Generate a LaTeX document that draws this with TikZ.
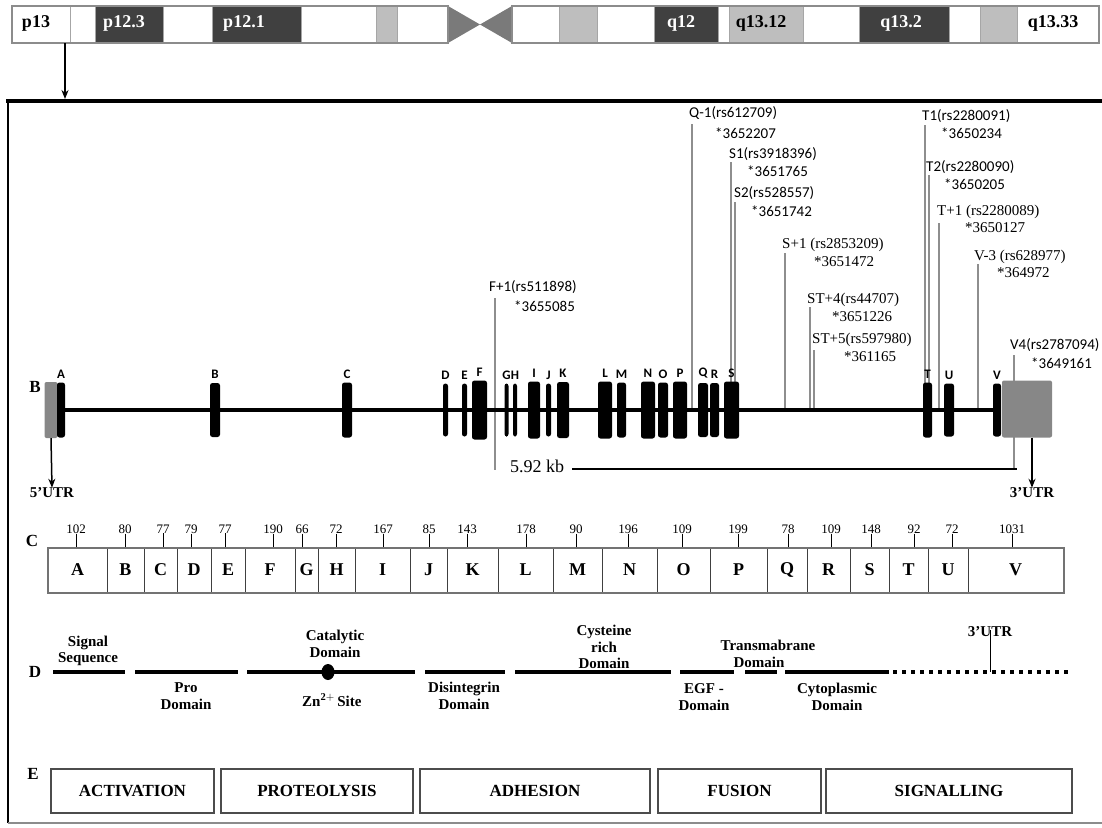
\documentclass[tikz,border=0pt]{standalone}
\usepackage{fontspec}
\setmainfont{Liberation Serif}
\newfontfamily\calib{Carlito}
\usepackage{tikz}
\usetikzlibrary{arrows.meta,positioning}
\definecolor{bandDark}{HTML}{404040}
\definecolor{bandLight}{HTML}{BEBEBE}
\definecolor{cenGray}{HTML}{7A7A7A}
\definecolor{utrGray}{HTML}{878787}
\definecolor{snpGray}{HTML}{8E8E8E}
\newcommand{\fsz}[1]{\fontsize{#1}{#1}\selectfont}
\tikzset{
  bandlab/.style={font=\bfseries\fsz{18}, inner sep=0pt},
  seclab/.style={font=\bfseries\fsz{17}, inner sep=0pt},
  exon/.style={fill=black, rounded corners=2.5pt, inner sep=0pt},
  exlab/.style={font=\calib\bfseries\fsz{13}, inner sep=0pt, anchor=south, yshift=4pt},
  utrbox/.style={fill=utrGray, rounded corners=2pt, inner sep=0pt},
  utrlab/.style={font=\bfseries\fsz{15}, inner sep=0pt},
  gene/.style={line width=4pt},
  snp/.style={snpGray, line width=2pt},
  snps/.style={font=\calib\fsz{15}, inner sep=0pt, anchor=west},
  snpr/.style={font=\fsz{15}, inner sep=0pt, anchor=west},
  arr/.style={-{Stealth[length=9pt,width=7pt]}, line width=1.5pt},
  cell/.style={draw=black!75, line width=1pt, minimum height=44pt, inner sep=0pt, font=\bfseries\fsz{18}},
  exnum/.style={font=\fsz{13}, inner sep=0pt},
  dom/.style={line width=4pt},
  domlab/.style={font=\bfseries\fontsize{15}{16.5}\selectfont, align=center, inner sep=0pt},
  role/.style={draw=black!70, line width=1.5pt, minimum height=44pt, inner sep=0pt, font=\bfseries\fsz{17}}
}

\begin{document}
\begin{tikzpicture}[x=1pt,y=-1pt]
\useasboundingbox (0,0) rectangle (1102,827);
% chromosome 12 ideogram
\foreach \a/\b/\c in {12/70/white,70/95/white,95/163/bandDark,163/212/white,212/301/bandDark,
  301/376/white,376/397/bandLight,397/448/white,512/559/white,559/597/bandLight,597/654/white,
  654/718/bandDark,718/729/white,729/803/bandLight,803/859/white,859/949/bandDark,949/980/white,
  980/1017/bandLight,1017/1099/white}
  \filldraw[fill=\c, draw=black!35, line width=0.6pt] (\a,6) rectangle (\b,43);
\fill[cenGray] (448,6) -- (480,24.5) -- (448,43) -- cycle;
\fill[cenGray] (512,6) -- (480,24.5) -- (512,43) -- cycle;
\draw[black!45, line width=1.5pt] (12,6) rectangle (448,43) (512,6) rectangle (1099,43);
\node[bandlab] (p13) at (36,23) {p13};
\node[bandlab, white] (p123) at (124,23) {p12.3};
\node[bandlab, white] (p121) at (244,23) {p12.1};
\node[bandlab, white] (q12) at (681,23) {q12};
\node[bandlab] (q1312) at (761,23) {q13.12};
\node[bandlab, white] (q132) at (901,23) {q13.2};
\node[bandlab] (q1333) at (1053,23) {q13.33};
\coordinate (zoomtop) at (65,43);
\coordinate (zoombot) at (65,99);
\draw[arr] (zoomtop) -- (zoombot);

% frame
\draw[line width=4pt] (6,101) -- (1102,101);
\draw[line width=1.5pt] (8,101) -- (8,823);
\draw[black!45, line width=1.5pt] (8,823) -- (1102,823);

% B: gene structure
\node[seclab] (labB) at (35,387) {B};
\foreach \n/\x/\yt/\yb/\lx/\ly/\nx/\ny/\st/\txt/\num in {
  f1/495/298/470/489/287/514/306/snps/F+1(rs511898)/*3655085,
  q1/692/124/410/689/113/715/133/snps/Q-1(rs612709)/*3652207,
  s1/731/162/410/729/154/747/171/snps/S1(rs3918396)/*3651765,
  s2/735/202/410/734/193/751/211/snps/S2(rs528557)/*3651742,
  sp1/785/253/410/782/245/814/262/snpr/S+1 (rs2853209)/*3651472,
  st4/810/307/410/807/300/832/317/snpr/ST+4(rs44707)/*3651226,
  st5/814/350/410/812/340/844/357/snpr/ST+5(rs597980)/*361165,
  t1/925/125/410/922/116/941/133/snps/T1(rs2280091)/*3650234,
  t2/929/175/410/926/167/944/184/snps/T2(rs2280090)/*3650205,
  tp1/939/223/410/937/212/965/228/snpr/T+1 (rs2280089)/*3650127,
  v3/978/264/410/974/257/997/273/snpr/V-3 (rs628977)/*364972,
  v4/1014/355/470/1010/345/1031/363/snps/V4(rs2787094)/*3649161}
{
  \coordinate (\n-t) at (\x,\yt);
  \coordinate (\n-b) at (\x,\yb);
  \draw[snp] (\n-t) -- (\n-b);
  \node[\st] (\n-lab) at (\lx,\ly) {\txt};
  \node[\st] (\n-num) at (\nx,\ny) {\num};
}
\coordinate (g0) at (58,410);
\coordinate (g1) at (1000,410);
\draw[gene] (g0) -- (g1);
\node[utrbox, minimum width=13pt, minimum height=56pt] (utr5) at (51,410) {};
\node[utrbox, minimum width=50pt, minimum height=57pt] (utr3) at (1027,409) {};
\foreach \nm/\x/\w/\h in {A/61/8/55, B/215/10/54, C/347/10/55, D/445.5/5/53, E/464.5/5/53,
  F/479.5/15/59, G/506.5/4/53, H/515/4/53, I/534/12/57, J/548.5/5/53, K/563/12/56,
  L/605/14/57, M/621.5/9/55, N/648/14/57, O/663/10/55, P/680/14/57, Q/703/10/54,
  R/714.5/9/54, S/731.5/15/57, T/927.5/9/55, U/949/10/53, V/997/8/53}
{
  \node[exon, minimum width=\w, minimum height=\h] (ex\nm) at (\x,410) {};
  \node[exlab] (lb\nm) at (ex\nm.north) {\nm};
}
\node[utrlab] (utrlab5) at (52,493) {5'UTR};
\node[utrlab] (utrlab3) at (1032,493) {3'UTR};
\draw[arr] (utr5.south) -- (utrlab5.north);
\draw[arr] (utr3.south -| utrlab3) -- (utrlab3.north);
\node[font=\fsz{18}, inner sep=0pt, anchor=west] (kb) at (510,466) {5.92 kb};
\coordinate (kbend) at (1017,469);
\draw[line width=2pt] ([xshift=8pt]kb.east |- kbend) -- (kbend);

% C: exon sizes
\node[seclab] (labC) at (32,541) {C};
\foreach \l/\a/\b/\tx/\sz in {A/48/107/76/102, B/107/144/125/80, C/144/177/163/77, D/177/211/191/79,
  E/211/245/225/77, F/245/295/273/190, G/295/318/302/66, H/318/355/336/72, I/355/410/383/167,
  J/410/447/429/85, K/447/498/467/143, L/498/553/526/178, M/553/602/576/90, N/602/657/628/196,
  O/657/710/682/109, P/710/767/738/199, Q/767/807/788/78, R/807/850/831/109, S/850/889/871/148,
  T/889/928/914/92, U/928/968/952/72, V/968/1063/1012/1031}
{
  \pgfmathsetmacro{\m}{(\a+\b)/2}
  \pgfmathsetmacro{\w}{\b-\a}
  \node[cell, minimum width=\w] (c\l) at (\m,570) {\l};
  \node[exnum] (n\l) at (\tx,529) {\sz};
  \draw[line width=0.8pt] (n\l.south) -- (n\l.south |- c\l.north);
}
\draw[black!55, line width=2pt] (cA.north west) rectangle (cV.south east);

% D: protein domains
\node[seclab] (labD) at (35,672) {D};
\foreach \a/\b in {53/125, 135/238, 247/415, 425/505, 515/671, 680/734, 745/777, 785/889}
  \draw[dom] (\a,672) -- (\b,672);
\draw[line width=4pt, dash pattern=on 4pt off 5pt] (893,672) -- (1070,672);
\fill (328,672) ellipse (6.5pt and 8pt);
\node[domlab] (sig) at (88,651) {Signal\\Sequence};
\node[domlab] (pro) at (186,696) {Pro\\Domain};
\node[domlab] (cat) at (335,644) {Catalytic\\Domain};
\node[domlab, anchor=west] (zn) at (302,700) {Zn$^{\mathbf{2+}}$\,Site};
\node[domlab] (dis) at (464,696) {Disintegrin\\Domain};
\node[domlab] (cys) at (604,647) {Cysteine\\rich\\Domain};
\node[domlab] (tm) at (768,654) {Transmabrane\\\hspace*{-1.2em}Domain};
\node[domlab] (egf) at (704,697) {EGF -\\Domain};
\node[domlab] (cyt) at (837,697) {Cytoplasmic\\Domain};
\node[domlab] (utrD) at (990,632) {3'UTR};
\coordinate (utrDtick) at (990,672);
\draw[line width=0.8pt] (utrD.south) ++(0,-7) -- (utrDtick);

% E: functions
\node[seclab] (labE) at (33,774) {E};
\foreach \t/\a/\b in {ACTIVATION/51/214, PROTEOLYSIS/221/413, ADHESION/420/650,
  FUSION/658/821, SIGNALLING/826/1072}
{
  \pgfmathsetmacro{\m}{(\a+\b)/2}
  \pgfmathsetmacro{\w}{\b-\a}
  \node[role, minimum width=\w] (r\t) at (\m,791) {\t};
}
\end{tikzpicture}
\end{document}
